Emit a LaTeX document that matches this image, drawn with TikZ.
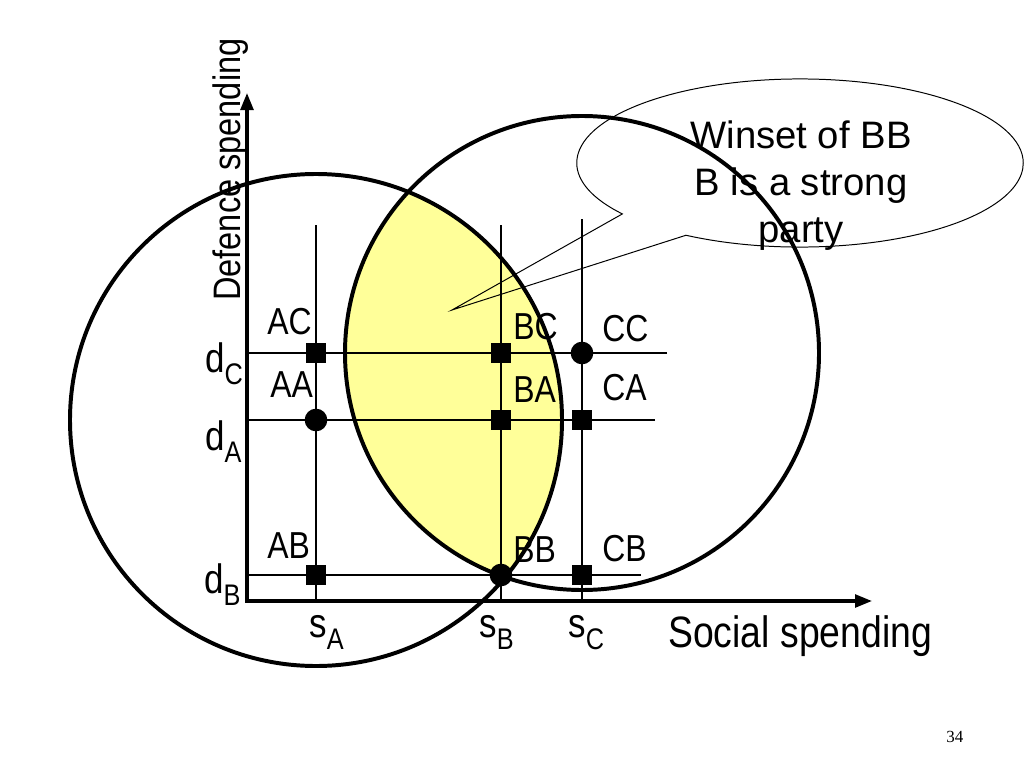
\documentclass[tikz,border=0pt]{standalone}
\usepackage{fontspec}
\setmainfont[FakeStretch=0.85]{Liberation Sans}
\newfontfamily\calloutfont{Liberation Sans}
\newfontfamily\pagefont{Liberation Serif}
\usetikzlibrary{shapes.callouts,arrows.meta}
\definecolor{winfill}{RGB}{255,255,153}
\newcommand{\lowsub}[1]{\raisebox{-8.5pt}{\fontsize{21}{21}\selectfont #1}}
\begin{document}
\begin{tikzpicture}[x=0.0248cm, y=-0.0248cm, >={Triangle[length=12pt,width=9pt]},
	axis/.style={line width=2.3pt}, grid/.style={line width=1.4pt}, circ/.style={line width=2.8pt},
	sqmark/.style={rectangle, fill=black, minimum size=14pt, inner sep=0},
	dotmark/.style={circle, fill=black, minimum size=16pt, inner sep=0},
	lbl/.style={anchor=base west, inner sep=0, font=\fontsize{26.5}{30}\selectfont},
	tick/.style={anchor=base west, inner sep=0, font=\fontsize{29}{30}\selectfont}]
				\useasboundingbox (0,0) rectangle (1024,768);
				\coordinate (O) at (247,601);\coordinate (ytop) at (247,93);\coordinate (xend) at (872,601);
				\foreach \n/\x/\t in {A/316/225, B/501/225, C/582/219} {\coordinate (s\n) at (\x,\t);}
				\foreach \n/\y/\e in {C/353/667, A/420/655, B/575/641} {\coordinate (d\n) at (\e,\y);}
				\begin{scope}\clip (sA |- dA) circle (246);\fill[winfill] (sC |- dC) circle (237);\end{scope}
				\foreach \n in {A,B,C} {\draw[grid] (s\n) -- (s\n |- O);\draw[grid] (d\n) -- (d\n -| O);}
				\draw[axis,<->] (ytop) -- (O) -- (xend);
				\draw[circ] (sA |- dA) circle (246);\draw[circ] (sC |- dC) circle (237);
				\foreach \s/\d/\m in {A/C/sqmark, A/A/dotmark, A/B/sqmark, B/C/sqmark, B/A/sqmark, B/B/dotmark, C/C/dotmark, C/A/sqmark, C/B/sqmark}
					{\node[\m] (\s\d) at (s\s |- d\d) {};}
				\foreach \t/\x/\y in {AC/267/334, AA/270/397, AB/267/558, BC/513/339, BA/513/402, BB/513/562, CC/602/341, CA/602/400, CB/602/561}
					{\node[lbl] (l\t) at (\x,\y) {\t};}
				\node[tick] (ldC) at (205,372) {d\lowsub{C}};\node[tick] (ldA) at (205,450) {d\lowsub{A}};\node[tick] (ldB) at (204,593) {d\lowsub{B}};
				\node[tick] (lsA) at (309,637) {s\lowsub{A}};\node[tick] (lsB) at (479,637) {s\lowsub{B}};\node[tick] (lsC) at (568,637) {s\lowsub{C}};
				\node[anchor=base west, inner sep=0, rotate=90, font=\fontsize{27}{30}\selectfont] (ylab) at (240,301) {Defence spending};
				\node[anchor=base west, inner sep=0, font=\fontsize{31}{34}\selectfont] (xlab) at (668,647) {Social spending};
				\coordinate (tip) at (452,310);
				\node[ellipse callout, draw, line width=0.7pt, minimum width=315pt, minimum height=118.6pt, inner sep=0, callout absolute pointer={(tip)}, callout pointer arc=22] (bubble) at (800,163) {};
				\node[align=center, anchor=north, inner sep=0, font=\calloutfont\fontsize{27}{33.2}\selectfont] (winset) at (801,120) {Winset of BB\\B is a strong\\party};
				\node[anchor=base west, inner sep=0, font=\pagefont\fontsize{12}{12}\selectfont] (page) at (946,742) {34};
			\end{tikzpicture}
\end{document}
